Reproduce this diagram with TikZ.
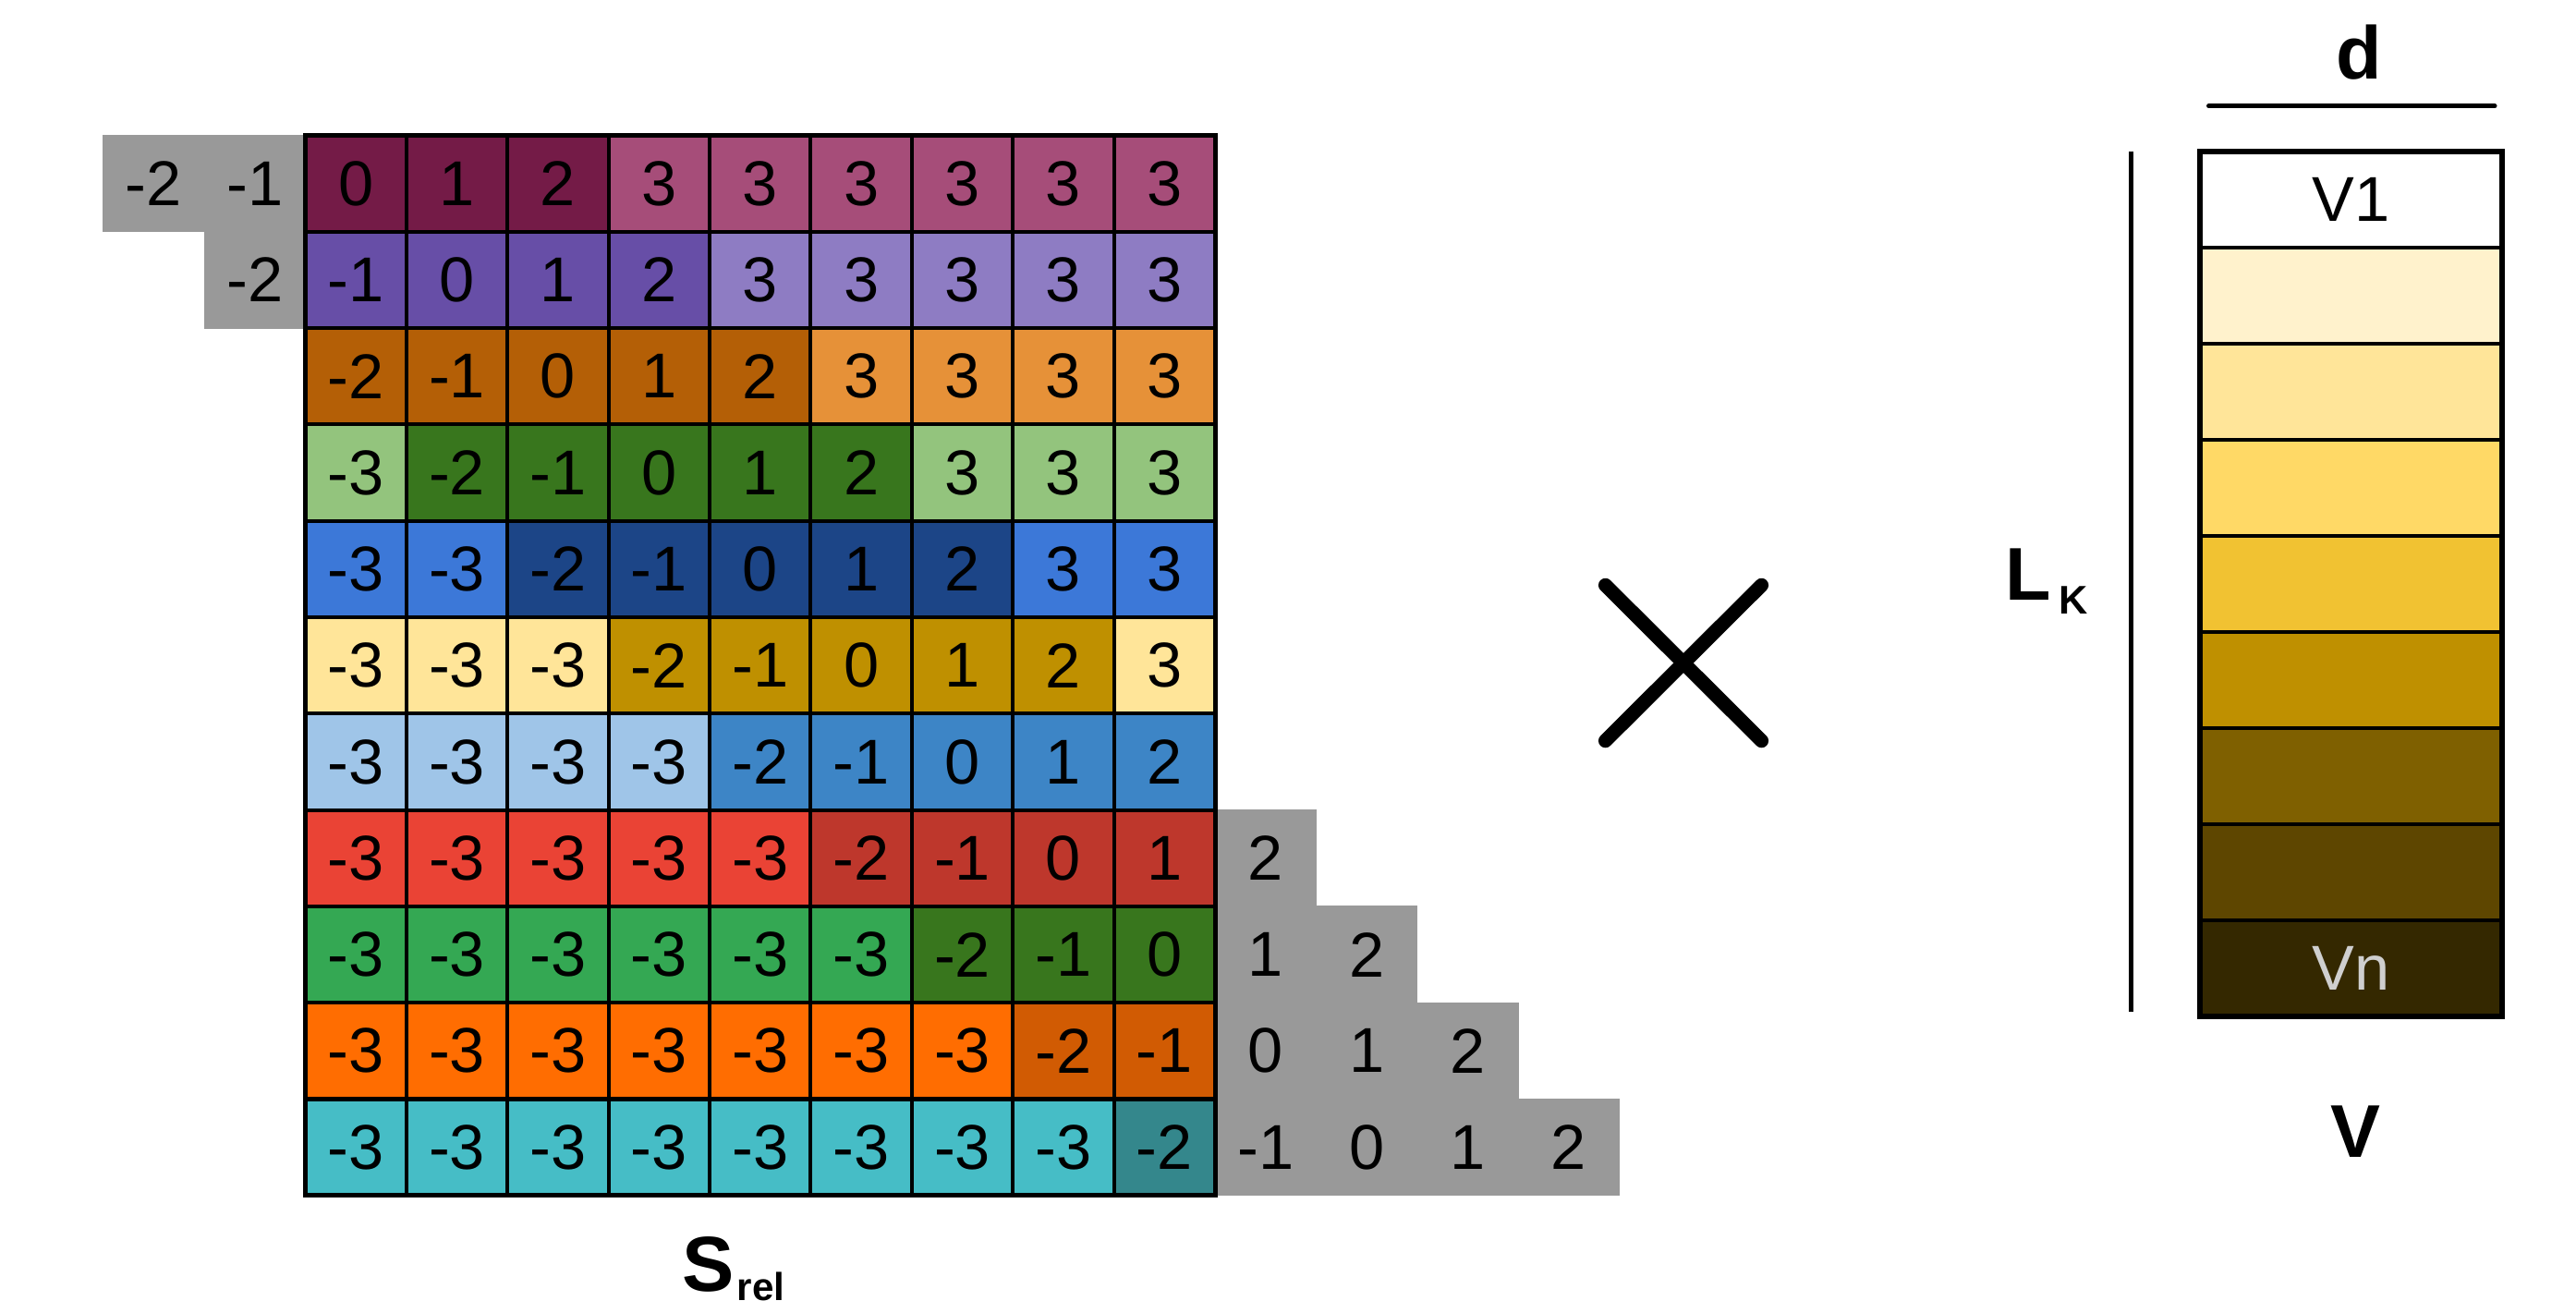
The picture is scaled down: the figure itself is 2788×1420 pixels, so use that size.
\documentclass[tikz,border=0pt]{standalone}
\usepackage{fontspec}
\setmainfont{Liberation Sans}
\usetikzlibrary{positioning}

% row colours of S_rel (light / dark)
\definecolor{magL}{HTML}{A64D79}\definecolor{magD}{HTML}{741B47}
\definecolor{purL}{HTML}{8E7CC3}\definecolor{purD}{HTML}{674EA7}
\definecolor{ornL}{HTML}{E69138}\definecolor{ornD}{HTML}{B45F06}
\definecolor{grnL}{HTML}{93C47D}\definecolor{grnD}{HTML}{38761D}
\definecolor{bluL}{HTML}{3C78D8}\definecolor{bluD}{HTML}{1C4587}
\definecolor{yelL}{HTML}{FFE599}\definecolor{yelD}{HTML}{BF9000}
\definecolor{skyL}{HTML}{9FC5E8}\definecolor{skyD}{HTML}{3D85C6}
\definecolor{redL}{HTML}{EA4335}\definecolor{redD}{HTML}{BE372C}
\definecolor{emeL}{HTML}{34A853}\definecolor{emeD}{HTML}{38761D}
\definecolor{tanL}{HTML}{FF6D01}\definecolor{tanD}{HTML}{D15B03}
\definecolor{cyaL}{HTML}{46BDC6}\definecolor{cyaD}{HTML}{34878C}
\definecolor{padgray}{HTML}{999999}
% rows of V
\definecolor{v1}{HTML}{FFFFFF}\definecolor{v2}{HTML}{FFF2CC}
\definecolor{v3}{HTML}{FFE599}\definecolor{v4}{HTML}{FFD966}
\definecolor{v5}{HTML}{F1C232}\definecolor{v6}{HTML}{BF9000}
\definecolor{v7}{HTML}{7F6000}\definecolor{v8}{HTML}{5E4600}
\definecolor{v9}{HTML}{342800}
\definecolor{vntext}{HTML}{CFCFCF}

\begin{document}
\begin{tikzpicture}[x=0.01cm, y=-0.01cm,
		cell/.style={draw=black, line width=1.14pt, inner sep=0pt, outer sep=0pt,
			minimum width=1.094cm, minimum height=1.043cm,
			font=\fontsize{19.5}{19.5}\selectfont},
		pad/.style={cell, draw=padgray, fill=padgray, line width=0.3pt},
		vrow/.style={draw=black, line width=1.14pt, inner sep=0pt, outer sep=0pt,
			minimum width=3.27cm, minimum height=1.04cm,
			font=\fontsize{19.5}{19.5}\selectfont},
		lbl/.style={inner sep=0pt, font=\fontsize{23}{23}\selectfont\bfseries}]

	\useasboundingbox (0,0) rectangle (2788,1420);

	% relative positions S_rel
	\foreach \r/\clight/\cdark in {0/magL/magD, 1/purL/purD, 2/ornL/ornD, 3/grnL/grnD,
			4/bluL/bluD, 5/yelL/yelD, 6/skyL/skyD, 7/redL/redD, 8/emeL/emeD,
			9/tanL/tanD, 10/cyaL/cyaD}{
		\foreach \c in {-2,...,12}{
			\pgfmathtruncatemacro\dist{\c-\r}
			\pgfmathtruncatemacro\val{max(-3,min(3,\dist))}
			\pgfmathtruncatemacro\inside{(\c>=0)*(\c<=8)}
			\pgfmathtruncatemacro\near{abs(\dist)<=2}
			\ifnum\inside=1
				\ifnum\near=1
					\node [cell, fill=\cdark] (s-\r-\c) at ({330.5+(\c+0.5)*109.4},{146.5+(\r+0.5)*104.3}) {\val};
				\else
					\node [cell, fill=\clight] (s-\r-\c) at ({330.5+(\c+0.5)*109.4},{146.5+(\r+0.5)*104.3}) {\val};
				\fi
			\else
				\ifnum\near=1
					\node [pad] (s-\r-\c) at ({330.5+(\c+0.5)*109.4},{146.5+(\r+0.5)*104.3}) {\val};
				\fi
			\fi
		}
	}
	\draw [line width=1.42pt] (s-0-0.north west) rectangle (s-10-8.south east);

	% product sign
	\coordinate (times) at (1822,717.5);
	\draw [line width=4.3pt, line cap=round] ([shift={(-84.5,-84.2)}]times) -- ([shift={(84.5,84.2)}]times);
	\draw [line width=4.3pt, line cap=round] ([shift={(84.5,-84.2)}]times) -- ([shift={(-84.5,84.2)}]times);

	% matrix V
	\foreach \i in {1,...,9}
		\node [vrow, fill=v\i] (v-\i) at (2544.5,{164+(\i-0.5)*104}) {};
	\node at (v-1) {\fontsize{19.5}{19.5}\selectfont V1};
	\node [text=vntext] at (v-9) {\fontsize{19.5}{19.5}\selectfont Vn};
	\draw [line width=1.7pt] (v-1.north west) rectangle (v-9.south east);

	% dimensions
	\coordinate (d-l) at (2390.5,114.7);
	\coordinate (d-r) at (2700,114.7);
	\draw [line width=1.42pt, line cap=round] (d-l) -- (d-r);
	\coordinate (lk-t) at (2306,164);
	\coordinate (lk-b) at (2306,1095);
	\draw [line width=1.42pt] (lk-t) -- (lk-b);

	% labels
	\node [lbl, anchor=base] (dlab) at (2553.5,85) {d};
	\node [lbl, anchor=base] (vlab) at (2549,1252) {V};
	\node [lbl, anchor=base west] (lklab) at (2170,649)
		{L\hspace{2.3pt}\raisebox{-4.5pt}{\fontsize{12.3}{12.3}\selectfont K}};
	\node [lbl, anchor=base west, font=\fontsize{24}{24}\selectfont\bfseries] (srel) at (738,1397)
		{S\hspace{0.8pt}\raisebox{-2.85pt}{\fontsize{12}{12}\selectfont rel}};

\end{tikzpicture}
\end{document}
